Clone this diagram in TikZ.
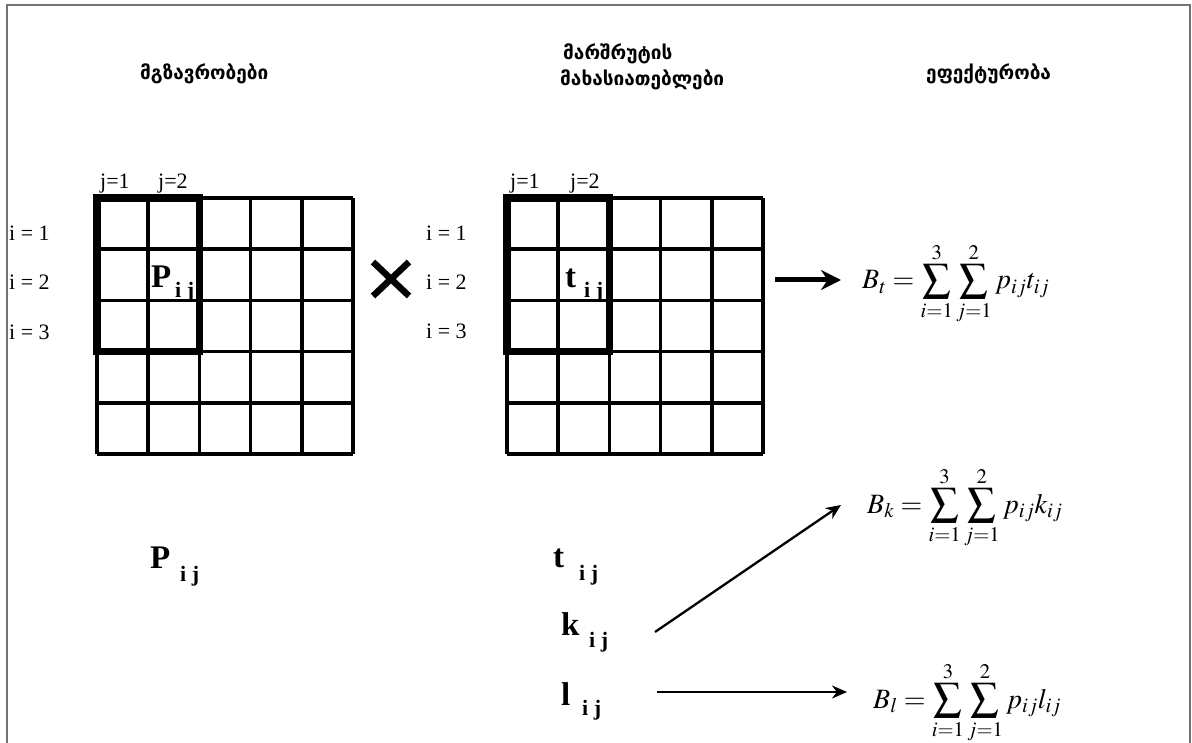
\documentclass[tikz,border=0pt]{standalone}
\usepackage{mathptmx}
\usepackage[no-math]{fontspec}
\setmainfont{Liberation Serif}
\newfontfamily\geo{DejaVu Sans}
\usetikzlibrary{arrows.meta}
\begin{document}
\begin{tikzpicture}[x=1pt,y=-1pt,
  frameline/.style={draw=black!55, line width=2pt},
  gridline/.style={line width=3.6pt},
  thickbox/.style={line width=7.5pt, line join=miter},
  lbl/.style={inner sep=0, font=\fontsize{22}{24}\selectfont, anchor=base west},
  geolbl/.style={inner sep=0, font=\geo\bfseries\fontsize{19}{22}\selectfont, anchor=base west},
  bigsym/.style={inner sep=0, font=\bfseries\fontsize{33}{36}\selectfont, anchor=base west},
  subsym/.style={inner sep=0, font=\bfseries\fontsize{22}{24}\selectfont, anchor=base west},
  formula/.style={inner sep=0, font=\fontsize{28}{34}\selectfont, anchor=base west},
  thinarrow/.style={line width=2.3pt, -{Stealth[length=15pt,width=13pt]}},
  thickarrow/.style={line width=5pt, -{Stealth[length=20pt,width=20pt]}}
]
\useasboundingbox (0,0) rectangle (1192,743);
% frame
\draw[frameline] (7,743) -- (7,5) -- (1190,5) -- (1190,743);

% Georgian headings
\node[geolbl] (h1) at (140,80) {მგზავრობები};
\node[geolbl] (h2a) at (563,60) {მარშრუტის};
\node[geolbl] (h2b) at (560,86) {მახასიათებლები};
\node[geolbl] (h3) at (926,80) {ეფექტურობა};

% grid 1
\foreach \k in {0,...,5}{
  \draw[gridline] (97+51.2*\k,198) -- (97+51.2*\k,454);
  \draw[gridline] (97,198+51.2*\k) -- (353,198+51.2*\k);
}
\draw[thickbox] (97,198) rectangle (199.4,351.6);
% grid 2
\foreach \k in {0,...,5}{
  \draw[gridline] (507+51.2*\k,198) -- (507+51.2*\k,454);
  \draw[gridline] (507,198+51.2*\k) -- (763,198+51.2*\k);
}
\draw[thickbox] (507,198) rectangle (609.4,351.6);

% labels grid 1
\node[lbl] (j11) at (100,189) {j=1};
\node[lbl] (j12) at (158,189) {j=2};
\node[lbl] (i11) at (9,241) {i = 1};
\node[lbl] (i12) at (9,290) {i = 2};
\node[lbl] (i13) at (9,340) {i = 3};
\node[bigsym] (P1) at (151,288) {P};
\node[subsym] (P1s) at (175,298) {i j};
% labels grid 2
\node[lbl] (j21) at (510,189) {j=1};
\node[lbl] (j22) at (570,189) {j=2};
\node[lbl] (i21) at (426,241) {i = 1};
\node[lbl] (i22) at (426,290) {i = 2};
\node[lbl] (i23) at (426,339) {i = 3};
\node[bigsym] (T1) at (565,288) {t};
\node[subsym] (T1s) at (584,298) {i j};

% times sign
\coordinate (xc) at (391,279);
\draw[line width=6.5pt] ([shift={(-18,-17)}]xc) -- ([shift={(18,17)}]xc);
\draw[line width=6.5pt] ([shift={(18,-17)}]xc) -- ([shift={(-18,17)}]xc);

% bottom symbols
\node[bigsym] (P2) at (150,568) {P};
\node[subsym] (P2s) at (180,581) {i j};
\node[bigsym] (T2) at (553,567) {t};
\node[subsym] (T2s) at (579,580) {i j};
\node[bigsym] (K2) at (561,635) {k};
\node[subsym] (K2s) at (589,647) {i j};
\node[bigsym] (L2) at (561,705) {l};
\node[subsym] (L2s) at (582,715) {i j};

% formulas
\node[formula] (Bt) at (862,289) {$\displaystyle B_t=\sum_{i=1}^{3}\sum_{j=1}^{2}p_{ij}t_{ij}$};
\node[formula] (Bk) at (867,513) {$\displaystyle B_k=\sum_{i=1}^{3}\sum_{j=1}^{2}p_{ij}k_{ij}$};
\node[formula] (Bl) at (873,708) {$\displaystyle B_l=\sum_{i=1}^{3}\sum_{j=1}^{2}p_{ij}l_{ij}$};

% arrows
\coordinate (a1s) at (775,280);
\coordinate (a1e) at (841,280);
\draw[thickarrow] (a1s) -- (a1e);
\coordinate (a2s) at (655,632);
\coordinate (a2e) at (841,505);
\draw[thinarrow] (a2s) -- (a2e);
\coordinate (a3s) at (657,692);
\coordinate (a3e) at (847,692);
\draw[thinarrow] (a3s) -- (a3e);
\end{tikzpicture}
\end{document}
